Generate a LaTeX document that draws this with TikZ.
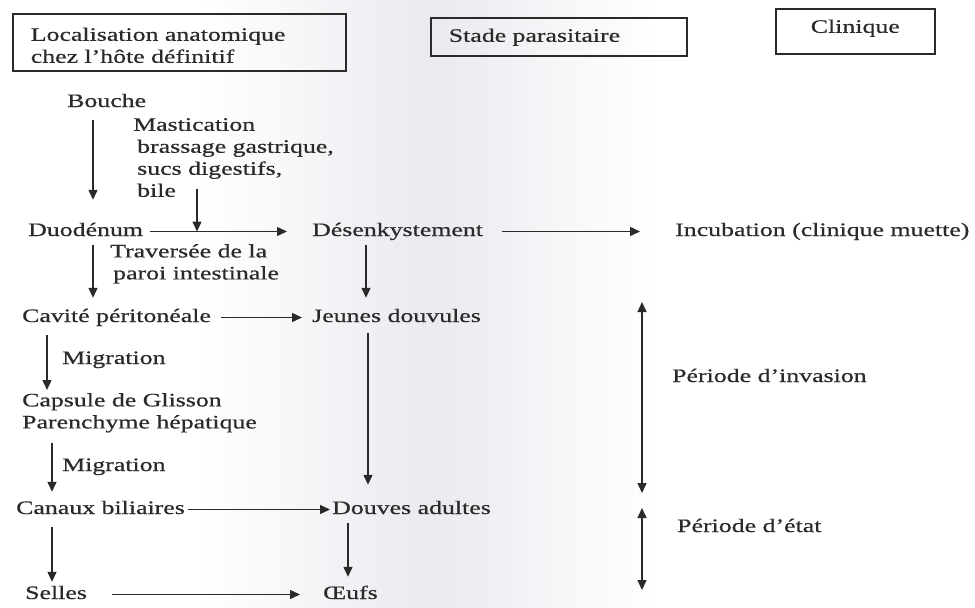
\documentclass[tikz,border=0pt]{standalone}
\usepackage{fontspec}
\setmainfont{Liberation Serif}[FakeStretch=1.36, FakeBold=0.6]
\usetikzlibrary{arrows.meta}
\definecolor{ink}{HTML}{2A2A2A}
\definecolor{paper}{HTML}{ECE9EF}
\begin{document}
\begin{tikzpicture}[x=1pt,y=-1pt,
  font=\fontsize{19pt}{22pt}\selectfont,
  every node/.style={text=ink},
  lbl/.style={anchor=base west, inner sep=0pt, text height=13pt, text depth=4pt},
  para/.style={anchor=north west, inner sep=0pt, align=left},
  hdr/.style={draw=ink, line width=1.6pt, anchor=north west},
  flow/.style={draw=ink, line width=1.4pt, -{Triangle[length=10pt,width=9pt]}},
  span/.style={draw=ink, line width=1.4pt, {Triangle[length=10pt,width=9pt]}-{Triangle[length=10pt,width=9pt]}}]

\useasboundingbox (0,0) rectangle (975,608);
\fill[white] (0,0) rectangle (975,608);
\shade[left color=white, right color=white, middle color=paper] (200,0) rectangle (660,608);

% column headers
\node[hdr, inner xsep=18pt, inner ysep=8pt, text width=297pt, align=left] (loc) at (12,13)
  {\rule{0pt}{19pt}Localisation anatomique\\chez l’hôte définitif};
\node[hdr, inner xsep=18pt, inner ysep=6pt, text width=220pt, align=left,
  text height=18pt, text depth=8pt] (stade) at (430,17) {Stade parasitaire};
\node[hdr, inner ysep=6pt, minimum width=159pt, text height=18pt, text depth=15pt]
  (clin) at (775,8) {Clinique};

% anatomical localisation
\node[lbl] (bouche) at (67,107) {Bouche};
\node[para] (mast) at (133,118)
  {Mastication\\\hspace*{4pt}brassage gastrique,\\\hspace*{4pt}sucs digestifs,\\\hspace*{4pt}bile};
\node[lbl] (duo) at (28,236) {Duodénum};
\node[para] (trav) at (110,244) {Traversée de la\\\hspace*{3pt}paroi intestinale};
\node[lbl] (cav) at (22,322) {Cavité péritonéale};
\node[lbl] (mig1) at (62,364) {Migration};
\node[para] (caps) at (22,393) {Capsule de Glisson\\Parenchyme hépatique};
\node[lbl] (mig2) at (62,471) {Migration};
\node[lbl] (canaux) at (16,514) {Canaux biliaires};
\node[lbl] (selles) at (25,599) {Selles};

% parasitic stage
\node[lbl] (desenk) at (312,236) {Désenkystement};
\node[lbl] (jeunes) at (312,322) {Jeunes douvules};
\node[lbl] (douves) at (332,514) {Douves adultes};
\node[lbl] (oeufs) at (323,599) {Œufs};

% clinical phases
\node[lbl] (incub) at (675,236) {Incubation (clinique muette)};
\node[lbl] (inv) at (672,382) {Période d’invasion};
\node[lbl] (etat) at (677,532) {Période d’état};

% connectors
\draw[flow] ([xshift=26pt,yshift=-9pt]bouche.south west) -- ([xshift=65pt,yshift=23pt]duo.north west);
\coordinate (bile) at (197,189);
\draw[flow] (bile) -- (bile |- duo.east);
\draw[flow] ([xshift=7pt]duo.east) -- ([xshift=-25pt]desenk.west);
\draw[flow] ([xshift=19pt]desenk.east) -- ([xshift=-35pt]incub.west);
\draw[flow] ([xshift=65pt,yshift=-5pt]duo.south west) -- ([xshift=71pt,yshift=11pt]cav.north west);
\draw[flow] ([xshift=54pt,yshift=-5pt]desenk.south west) -- ([xshift=54pt,yshift=11pt]jeunes.north west);
\draw[flow] ([xshift=10pt]cav.east) -- ([xshift=-10pt]jeunes.west);
\draw[flow] ([xshift=25pt,yshift=-9pt]cav.south west) -- ([xshift=25pt,yshift=3pt]caps.north west);
\draw[flow] ([xshift=30pt,yshift=-10pt]caps.south west) -- ([xshift=36pt,yshift=9pt]canaux.north west);
\draw[flow] ([xshift=56pt,yshift=-7pt]jeunes.south west) -- ([xshift=36pt,yshift=16pt]douves.north west);
\draw[flow] ([xshift=3pt]canaux.east) -- ([xshift=-2pt]douves.west);
\draw[flow] ([xshift=36pt,yshift=-9pt]canaux.south west) -- ([xshift=27pt,yshift=4pt]selles.north west);
\draw[flow] ([xshift=16pt,yshift=-5pt]douves.south west) -- ([xshift=25pt,yshift=9pt]oeufs.north west);
\draw[flow] ([xshift=25pt]selles.east) -- ([xshift=-23pt]oeufs.west);

% period spans
\coordinate (invtop) at (642,302);
\coordinate (invbot) at (642,493);
\coordinate (etattop) at (642,508);
\coordinate (etatbot) at (642,590);
\draw[span] (invtop) -- (invbot);
\draw[span] (etattop) -- (etatbot);
\end{tikzpicture}
\end{document}
